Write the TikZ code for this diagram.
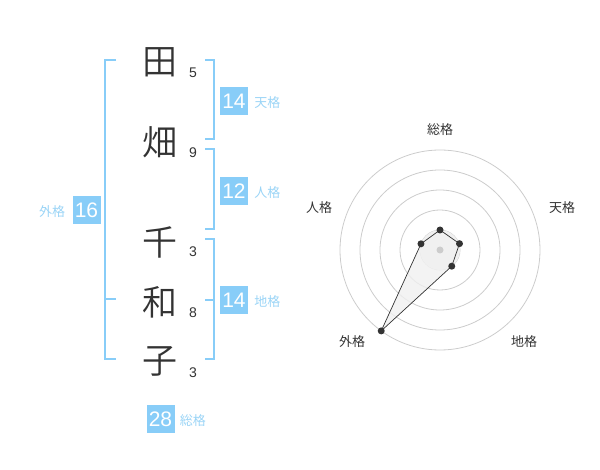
\documentclass[tikz,border=0pt]{standalone}
\usepackage{fontspec}
\usetikzlibrary{calc}
\setmainfont{Liberation Sans}
\newfontfamily\jp{Noto Sans CJK JP}
\newfontfamily\jpl{Noto Sans CJK JP DemiLight}
\definecolor{kblue}{HTML}{88CDF8}
\definecolor{klab}{HTML}{9AD4F6}
\definecolor{kdark}{HTML}{333333}
\definecolor{kgrid}{HTML}{CCCCCC}
\tikzset{
  kanji/.style={font=\jpl\fontsize{35}{35}\selectfont, text=kdark, inner sep=0pt},
  strokes/.style={font=\fontsize{14}{14}\selectfont, text=kdark, inner sep=0pt},
  kbox/.style={fill=kblue, text=white, minimum width=28pt, minimum height=28pt, inner sep=0pt, font=\fontsize{21}{21}\selectfont},
  klabel/.style={font=\jp\fontsize{13}{13}\selectfont, text=klab, inner sep=0pt},
  bracket/.style={draw=kblue, line width=2pt},
  rlabel/.style={font=\jp\fontsize{13}{13}\selectfont, text=kdark, inner sep=0pt},
  grid/.style={draw=kgrid, line width=0.8pt},
  vdot/.style={circle, fill=kdark, inner sep=0pt, minimum size=7pt},
}
\begin{document}
\begin{tikzpicture}[x=1pt,y=-1pt]
\useasboundingbox (0,0) rectangle (600,470);
% kanji
\node[kanji] (k1) at (160,62) {田};
\node[kanji] (k2) at (160,142) {畑};
\node[kanji] (k3) at (160,242) {千};
\node[kanji] (k4) at (160,302) {和};
\node[kanji] (k5) at (160,361) {子};
% stroke counts
\node[strokes] (s1) at (193,73) {5};
\node[strokes] (s2) at (193,153) {9};
\node[strokes] (s3) at (193,252) {3};
\node[strokes] (s4) at (193,313) {8};
\node[strokes] (s5) at (193,373) {3};
% brackets right
\draw[bracket] (205,60) -- (214,60) -- (214,139) -- (205,139);
\draw[bracket] (205,149) -- (214,149) -- (214,229) -- (205,229);
\draw[bracket] (205,239) -- (214,239) -- (214,359) -- (205,359);
\draw[bracket] (214,300) -- (205,300);
% bracket left
\draw[bracket] (116,60) -- (105,60) -- (105,359) -- (116,359);
\draw[bracket] (105,299) -- (116,299);
% boxes
\node[kbox] (ten) at (234,101) {14};
\node[klabel, anchor=west] (tenl) at ([xshift=6pt,yshift=-2pt]ten.east) {天格};
\node[kbox] (jin) at (234,191) {12};
\node[klabel, anchor=west] (jinl) at ([xshift=6pt,yshift=-2pt]jin.east) {人格};
\node[kbox] (chi) at (234,300) {14};
\node[klabel, anchor=west] (chil) at ([xshift=6pt,yshift=-2pt]chi.east) {地格};
\node[kbox] (gai) at (86.5,210) {16};
\node[klabel, anchor=east] (gail) at ([xshift=-7pt,yshift=-2pt]gai.west) {外格};
\node[kbox] (sou) at (160.5,419) {28};
\node[klabel, anchor=west] (soul) at ([xshift=5pt,yshift=-2pt]sou.east) {総格};
% radar
\coordinate (c) at (440,250);
\foreach \r in {20,40,60,80,100} \draw[grid] (c) circle[radius=\r pt];
\fill[kgrid!30] (c) circle[radius=20pt];
\coordinate (p1) at ($(c)+(-90:20)$);
\coordinate (p2) at ($(c)+(-18:20.5)$);
\coordinate (p3) at ($(c)+(54:20)$);
\coordinate (p4) at ($(c)+(126:100)$);
\coordinate (p5) at ($(c)+(198:20)$);
\draw[fill=black!6, fill opacity=0.8, draw=kdark, line width=0.7pt] (p1) -- (p2) -- (p3) -- (p4) -- (p5) -- cycle;
\node[circle, fill=kgrid, inner sep=0pt, minimum size=7pt] (cd) at (c) {};
\foreach \i in {1,...,5} \node[vdot] (d\i) at (p\i) {};
\node[rlabel] (l1) at (440,130) {総格};
\node[rlabel] (l2) at (562,208) {天格};
\node[rlabel] (l3) at (524,342) {地格};
\node[rlabel] (l4) at (352,342) {外格};
\node[rlabel] (l5) at (319,208) {人格};
\end{tikzpicture}
\end{document}
